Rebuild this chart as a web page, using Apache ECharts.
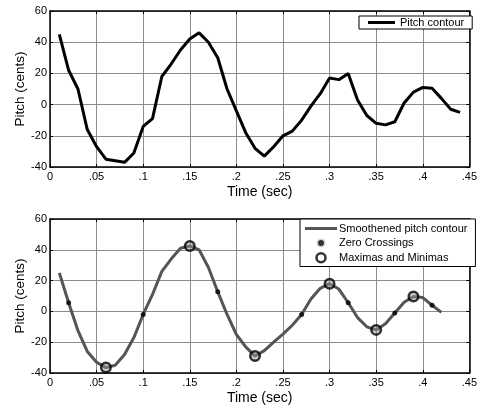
<!DOCTYPE html>
<html>
<head>
<meta charset="utf-8">
<script src="https://cdn.jsdelivr.net/npm/echarts@6/dist/echarts.min.js"></script>
<style>
  html, body { margin: 0; padding: 0; background: #fff; }
  #chart { width: 480px; height: 408px; }
</style>
</head>
<body>
<div id="chart"></div>
<script>
// Raw pitch contour, sampled every 10 ms
const rawTime = [0.01, 0.02, 0.03, 0.04, 0.05, 0.06, 0.07, 0.08, 0.09, 0.10,
  0.11, 0.12, 0.13, 0.14, 0.15, 0.16, 0.17, 0.18, 0.19, 0.20,
  0.21, 0.22, 0.23, 0.24, 0.25, 0.26, 0.27, 0.28, 0.29, 0.30,
  0.31, 0.32, 0.33, 0.34, 0.35, 0.36, 0.37, 0.38, 0.39, 0.40,
  0.41, 0.42, 0.43, 0.44];
const rawPitch = [45, 22, 10, -16, -27, -35, -36, -37, -31, -14,
  -9, 18, 26, 35, 42, 46, 40, 30, 10, -4,
  -18, -28, -33, -27, -20, -17, -10, -1, 7, 17,
  16, 20, 3, -7, -12, -13, -11, 1, 8, 11,
  10.5, 4, -3, -5];

// Smoothed contour
const smoothTime = [0.01, 0.02, 0.03, 0.04, 0.05, 0.06, 0.07, 0.08, 0.09, 0.10,
  0.11, 0.12, 0.13, 0.14, 0.15, 0.16, 0.17, 0.18, 0.19, 0.20,
  0.21, 0.22, 0.23, 0.24, 0.25, 0.26, 0.27, 0.28, 0.29, 0.30,
  0.31, 0.32, 0.33, 0.34, 0.35, 0.36, 0.37, 0.38, 0.39, 0.40,
  0.41, 0.42];
const smoothPitch = [25, 5.6, -12.5, -26, -33, -36.5, -35, -28, -17, -2,
  11, 26, 34, 41, 42.5, 40, 28.5, 12.8, -2, -15,
  -23, -29, -25.5, -20, -14.7, -9, -2, 8, 15, 18,
  14.5, 5.6, -4, -10, -12, -8, -1, 6, 9.7, 9,
  4, -0.6];

// Zero crossings of the slope
const zeroTime = [0.02, 0.10, 0.18, 0.27, 0.32, 0.37, 0.41];
const zeroPitch = [5.6, -2, 12.8, -2, 5.6, -1, 4];

// Local extrema
const extTime = [0.06, 0.15, 0.22, 0.30, 0.35, 0.39];
const extPitch = [-36.5, 42.5, -29, 18, -12, 9.7];

const xTicks = { min: 0, max: 0.45, interval: 0.05 };
const yTicks = { min: -40, max: 60, interval: 20 };

const pairs = (xs, ys) => xs.map((x, i) => [x, ys[i]]);

const FONT = 'Liberation Sans, Arial, sans-serif';
const fmtX = v => {
  if (Math.abs(v) < 1e-9) return '0';
  return String(+v.toFixed(2)).replace(/^0\./, '.');
};

function mainX(gridIndex) {
  return {
    type: 'value', gridIndex, min: xTicks.min, max: xTicks.max, interval: xTicks.interval,
    name: 'Time (sec)', nameLocation: 'middle', nameGap: 18, nameMoveOverlap: false,
    nameTextStyle: { fontFamily: FONT, fontSize: 14, color: '#000' },
    axisLine: { show: true, onZero: false, lineStyle: { color: '#000', width: 1.5 } },
    axisTick: { show: true, inside: true, length: 3, lineStyle: { color: '#000' } },
    axisLabel: { formatter: fmtX, fontFamily: FONT, fontSize: 11, color: '#000', margin: 4, showMaxLabel: true, showMinLabel: true },
    splitLine: { show: true, lineStyle: { color: '#8c8c8c', width: 1 } }
  };
}
function mainY(gridIndex) {
  return {
    type: 'value', gridIndex, min: yTicks.min, max: yTicks.max, interval: yTicks.interval,
    name: 'Pitch (cents)', nameLocation: 'middle', nameGap: 23, nameMoveOverlap: false,
    nameTextStyle: { fontFamily: FONT, fontSize: 13.5, color: '#000' },
    axisLine: { show: true, onZero: false, lineStyle: { color: '#000', width: 1.5 } },
    axisTick: { show: true, inside: true, length: 3, lineStyle: { color: '#000' } },
    axisLabel: { fontFamily: FONT, fontSize: 11, color: '#000', margin: 3 },
    splitLine: { show: true, lineStyle: { color: '#8c8c8c', width: 1 } }
  };
}
// Mirror axes on the top/right edges carrying only inward ticks
function mirrorX(gridIndex) {
  return {
    type: 'value', gridIndex, position: 'top', min: xTicks.min, max: xTicks.max, interval: xTicks.interval,
    axisLine: { show: true, onZero: false, lineStyle: { color: '#000', width: 1.5 } },
    axisTick: { show: true, inside: true, length: 3, lineStyle: { color: '#000' } },
    axisLabel: { show: false }, splitLine: { show: false }
  };
}
function mirrorY(gridIndex) {
  return {
    type: 'value', gridIndex, position: 'right', min: yTicks.min, max: yTicks.max, interval: yTicks.interval,
    axisLine: { show: true, onZero: false, lineStyle: { color: '#000', width: 1.5 } },
    axisTick: { show: true, inside: true, length: 3, lineStyle: { color: '#000' } },
    axisLabel: { show: false }, splitLine: { show: false }
  };
}

const chart = echarts.init(document.getElementById('chart'), null, { renderer: 'canvas' });

chart.setOption({
  animation: false,
  backgroundColor: '#fff',
  textStyle: { fontFamily: FONT },
  grid: [
    { left: 50, top: 11, width: 425, height: 156 },
    { left: 50, top: 219, width: 425, height: 154 }
  ],
  xAxis: [mainX(0), mainX(1), mirrorX(0), mirrorX(1)],
  yAxis: [mainY(0), mainY(1), mirrorY(0), mirrorY(1)],
  legend: [
    {
      left: 359, top: 16, orient: 'vertical',
      padding: [1, 8, 1, 9],
      backgroundColor: '#fff', borderColor: '#000', borderWidth: 1,
      itemWidth: 27, itemHeight: 3, itemGap: 2,
      textStyle: { fontFamily: FONT, fontSize: 11, color: '#000' },
      data: [{ name: 'Pitch contour', icon: 'path://M0,0 L27,0 L27,3 L0,3 Z' }]
    },
    {
      left: 300, top: 219, orient: 'vertical',
      padding: [4, 8, 3, 5],
      backgroundColor: '#fff', borderColor: '#000', borderWidth: 1,
      itemWidth: 32, itemHeight: 9, itemGap: 3,
      textStyle: { fontFamily: FONT, fontSize: 11, color: '#000', padding: [0, 0, 0, -3] },
      data: [
        { name: 'Smoothened pitch contour', icon: 'path://M0,0 L32,0 L32,3 L0,3 Z', itemStyle: { color: '#555' } },
        { name: 'Zero Crossings', icon: 'circle', itemStyle: { color: '#000', borderColor: '#fff', borderWidth: 3 } },
        { name: 'Maximas and Minimas', icon: 'circle', itemStyle: { color: '#fff', borderColor: '#000', borderWidth: 2.5 } }
      ]
    }
  ],
  series: [
    {
      name: 'Pitch contour', type: 'line', xAxisIndex: 0, yAxisIndex: 0,
      data: pairs(rawTime, rawPitch), showSymbol: false, symbol: 'none',
      lineStyle: { color: '#000', width: 3 }, itemStyle: { color: '#000' }
    },
    {
      name: 'Smoothened pitch contour', type: 'line', xAxisIndex: 1, yAxisIndex: 1,
      data: pairs(smoothTime, smoothPitch), showSymbol: false, symbol: 'none',
      lineStyle: { color: '#555', width: 3 }, itemStyle: { color: '#555' }
    },
    {
      name: 'Zero Crossings', type: 'scatter', xAxisIndex: 1, yAxisIndex: 1,
      data: pairs(zeroTime, zeroPitch), symbol: 'circle', symbolSize: 5,
      itemStyle: { color: '#000' }, z: 3
    },
    {
      name: 'Maximas and Minimas', type: 'scatter', xAxisIndex: 1, yAxisIndex: 1,
      data: pairs(extTime, extPitch), symbol: 'circle', symbolSize: 9.5,
      itemStyle: { color: 'rgba(150,150,150,0.6)', borderColor: '#000', borderWidth: 2.5 }, z: 4
    }
  ]
});
</script>
</body>
</html>
